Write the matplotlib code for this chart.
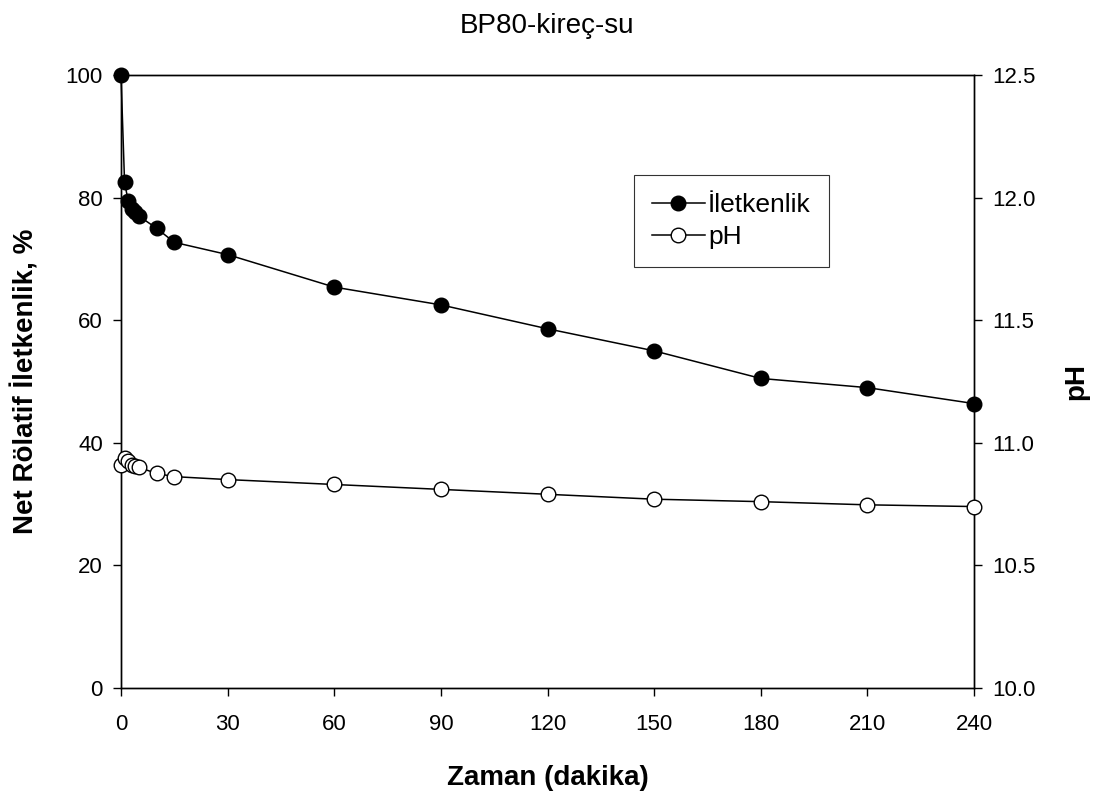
import matplotlib.pyplot as plt
from matplotlib.lines import Line2D

plt.rcParams['font.family'] = ['Liberation Sans', 'DejaVu Sans']

# Data
time_min = [0, 1, 2, 3, 4, 5, 10, 15, 30, 60, 90, 120, 150, 180, 210, 240]
conductivity = [100, 82.5, 79.5, 78.2, 77.6, 77.0, 75.0, 72.7, 70.7, 65.4, 62.5, 58.6, 55.0, 50.5, 49.0, 46.4]
ph_values = [10.91, 10.94, 10.925, 10.91, 10.905, 10.90, 10.875, 10.862, 10.85, 10.83, 10.81, 10.79, 10.77, 10.76, 10.747, 10.74]

x_ticks = [0, 30, 60, 90, 120, 150, 180, 210, 240]
left_ticks = [0, 20, 40, 60, 80, 100]
right_ticks = [10.0, 10.5, 11.0, 11.5, 12.0, 12.5]

fig = plt.figure(figsize=(10.98, 7.94), dpi=100)
ax = fig.add_axes([121 / 1098, 1 - 688 / 794, (974 - 121) / 1098, (688 - 75) / 794])
ax2 = ax.twinx()

ax.plot(time_min, conductivity, color='black', lw=1.1, marker='o', ms=10.5,
        mfc='black', mec='black', zorder=3, clip_on=False)
ax2.plot(time_min, ph_values, color='black', lw=1.1, marker='o', ms=10.5,
         mfc='white', mec='black', zorder=3, clip_on=False)

ax.set_xlim(0, 240)
ax.set_ylim(0, 100)
ax2.set_ylim(10.0, 12.5)
ax.set_xticks(x_ticks)
ax.set_yticks(left_ticks)
ax2.set_yticks(right_ticks)
ax2.set_yticklabels([f"{v:.1f}" for v in right_ticks])

for a in (ax, ax2):
    a.tick_params(direction='out', length=6, width=1, labelsize=16, pad=7)
    for s in a.spines.values():
        s.set_linewidth(1.0)
ax.tick_params(axis='x', pad=13)

ax.set_xlabel('Zaman (dakika)', fontsize=20, fontweight='bold', labelpad=21)
ax.set_ylabel('Net Rölatif İletkenlik, %', fontsize=20, fontweight='bold', labelpad=19)
ax2.set_ylabel('pH', fontsize=20, fontweight='bold', labelpad=20)
ax.set_title('BP80-kireç-su', fontsize=20, pad=30)

handles = [
    Line2D([], [], color='black', lw=1.1, marker='o', ms=10.5, mfc='black', mec='black'),
    Line2D([], [], color='black', lw=1.1, marker='o', ms=10.5, mfc='white', mec='black'),
]
leg = ax.legend(handles, ['İletkenlik', 'pH'], loc='upper left',
                bbox_to_anchor=((634 - 121) / 853, 1 - (175 - 75) / 613),
                fontsize=19, frameon=True, fancybox=False, edgecolor='black',
                handlelength=2.0, handletextpad=0.12, borderpad=0.68,
                labelspacing=0.3, borderaxespad=0)
leg.get_frame().set_linewidth(0.8)

fig.savefig('out.png', dpi=100)
